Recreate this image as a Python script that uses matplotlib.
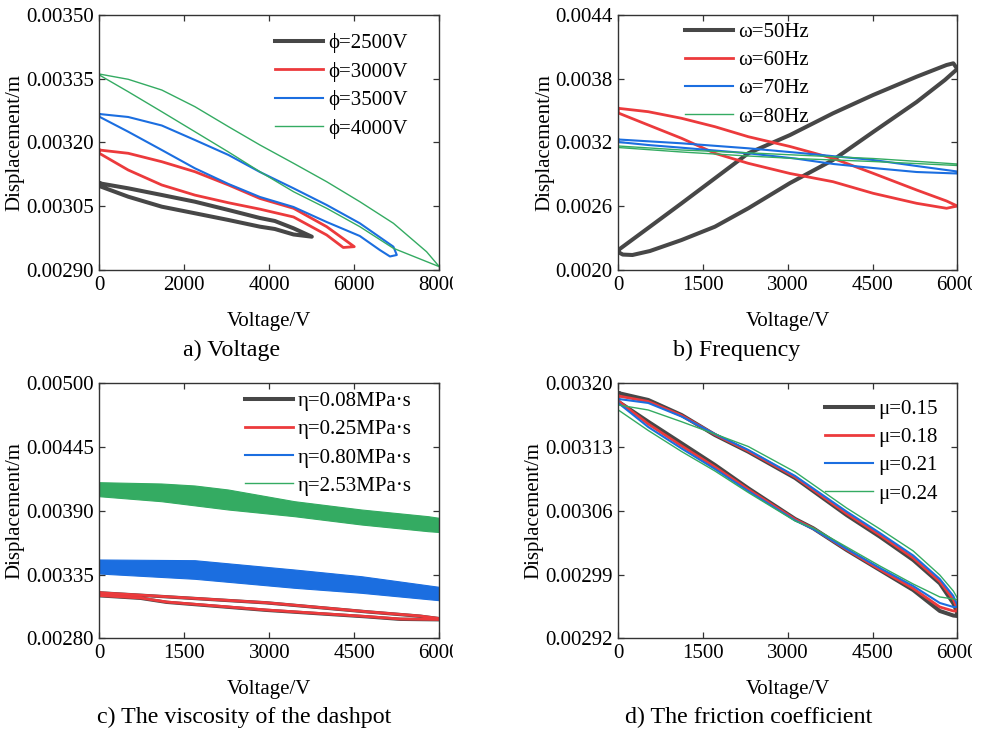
import numpy as np
import matplotlib
matplotlib.use("Agg")
import matplotlib.pyplot as plt
from matplotlib.lines import Line2D
from matplotlib.transforms import Bbox

plt.rcParams['font.family'] = ['Liberation Serif', 'DejaVu Serif']

# ---------------- data (voltage in V, displacement in m), closed hysteresis loops ----------------
# a) Voltage amplitude
volt_a_2500 = [0, 680, 1470, 2250, 3040, 3780, 4130, 4570, 5000, 4570, 4130, 3780, 3040, 2250, 1470, 680, 0]
disp_a_2500 = [0.0031038, 0.0030920, 0.0030763, 0.0030605, 0.0030410, 0.0030222, 0.0030152, 0.0029980, 0.0029783,
               0.0029835, 0.0029964, 0.0030018, 0.0030175, 0.0030333, 0.0030488, 0.0030723, 0.0030974]
volt_a_3000 = [0, 680, 1470, 2250, 3040, 3780, 4570, 5350, 6000, 5740, 5350, 4570, 3780, 3040, 2250, 1470, 680, 0]
disp_a_3000 = [0.0031820, 0.0031743, 0.0031545, 0.0031310, 0.0030998, 0.0030681, 0.0030450, 0.0030018, 0.0029548,
               0.0029529, 0.0029823, 0.0030246, 0.0030430, 0.0030580, 0.0030760, 0.0030998, 0.0031350, 0.0031743]
volt_a_3500 = [0, 680, 1470, 2250, 3040, 3780, 4570, 5350, 6130, 6920, 7000,
               6840, 6600, 6130, 5350, 4570, 3780, 3040, 2250, 1470, 680, 0]
disp_a_3500 = [0.0032666, 0.0032596, 0.0032396, 0.0032055, 0.0031703, 0.0031303, 0.0030920, 0.0030528, 0.0030098,
               0.0029548, 0.0029353,
               0.0029318, 0.0029470, 0.0029799, 0.0030128, 0.0030481, 0.0030716, 0.0031021, 0.0031390, 0.0031820,
               0.0032250, 0.0032603]
volt_a_4000 = [0, 680, 1470, 2250, 3040, 3780, 4570, 5350, 6130, 6920, 7700, 8000,
               6920, 6130, 5350, 4570, 3780, 3040, 2250, 1470, 680, 0]
disp_a_4000 = [0.0033606, 0.0033482, 0.0033230, 0.0032838, 0.0032368, 0.0031938, 0.0031508, 0.0031075, 0.0030605,
               0.0030098, 0.0029430, 0.0029078,
               0.0029510, 0.0030018, 0.0030450, 0.0030840, 0.0031310, 0.0031773, 0.0032250, 0.0032720, 0.0033190,
               0.0033583]

# b) Frequency
volt_b_50 = [0, 560, 1120, 1710, 2300, 3040, 3800, 4510, 5280, 5810, 5930, 6000,
             5780, 5280, 4510, 3800, 3040, 2300, 1710, 1120, 560, 250, 80, 0]
disp_b_50 = [0.0021879, 0.0024070, 0.0026270, 0.0028620, 0.0030970, 0.0032690, 0.0034730, 0.0036451, 0.0038171,
             0.0039271, 0.0039431, 0.0038900,
             0.0037861, 0.0035793, 0.0032973, 0.0030340, 0.0028178, 0.0025800, 0.0024070, 0.0022819, 0.0021785,
             0.0021410, 0.0021450, 0.0021680]
volt_b_60 = [0, 530, 1120, 1710, 2300, 3040, 3800, 4510, 5280, 5810, 6000,
             5810, 5280, 4510, 3800, 3040, 2300, 1710, 1120, 530, 0]
disp_b_60 = [0.0035200, 0.0034881, 0.0034261, 0.0033471, 0.0032531, 0.0031609, 0.0030500, 0.0029090, 0.0027520,
             0.0026486, 0.0026016,
             0.0025800, 0.0026270, 0.0027210, 0.0028300, 0.0029071, 0.0030030, 0.0030970, 0.0032380, 0.0033631,
             0.0034759]
volt_b_70 = [0, 1120, 2300, 3130, 4510, 5280, 6000,
             6000, 5280, 4510, 3810, 3130, 2300, 1120, 530, 0]
disp_b_70 = [0.0032268, 0.0031910, 0.0031440, 0.0031045, 0.0030340, 0.0029776, 0.0029259,
             0.0029071, 0.0029212, 0.0029588, 0.0029964, 0.0030481, 0.0030970, 0.0031497, 0.0031750, 0.0032032]
volt_b_80 = [0, 1120, 2300, 3130, 4510, 6000,
             6000, 4510, 3130, 2300, 1120, 0]
disp_b_80 = [0.0031656, 0.0031280, 0.0031017, 0.0030810, 0.0030481, 0.0029964,
             0.0029823, 0.0030199, 0.0030481, 0.0030716, 0.0031092, 0.0031515]

# c) Viscosity of the dashpot
volt_c_008 = [0, 1190, 2950, 4720, 5660, 6000, 6000, 5310, 4720, 2950, 1190, 730, 0]
disp_c_008 = [0.0031925, 0.0031580, 0.0031060, 0.0030285, 0.0029910, 0.0029695,
              0.0029600, 0.0029640, 0.0029855, 0.0030415, 0.0031105, 0.0031450, 0.0031670]
volt_c_025 = [0, 1190, 2950, 4720, 5660, 6000, 6000, 5310, 4720, 2950, 1190, 730, 0]
disp_c_025 = [0.0031935, 0.0031590, 0.0031072, 0.0030296, 0.0029925, 0.0029709,
              0.0029623, 0.0029666, 0.0029882, 0.0030443, 0.0031133, 0.0031478, 0.0031694]
volt_c_080 = [0, 1690, 3450, 4630, 6000, 6000, 4630, 3450, 1690, 0]
disp_c_080 = [0.0034756, 0.0034696, 0.0033893, 0.0033315, 0.0032400,
              0.0031245, 0.0031883, 0.0032315, 0.0033091, 0.0033548]
volt_c_253 = [0, 1100, 1690, 2280, 3450, 4630, 5810, 6000, 6000, 5810, 4630, 3450, 2280, 1100, 0]
disp_c_253 = [0.0041425, 0.0041313, 0.0041140, 0.0040795, 0.0039786, 0.0039070, 0.0038492, 0.0038354,
              0.0037129, 0.0037198, 0.0037776, 0.0038492, 0.0039070, 0.0039786, 0.0040217]

# d) Friction coefficient
volt_d = [0, 530, 1120, 1710, 2300, 3130, 4040, 4630, 5220, 5690, 5930, 6000,
          6000, 5930, 5690, 5220, 4630, 4040, 3450, 3130, 2300, 1710, 1120, 530, 0]
disp_d_015 = [0.0031893, 0.0031817, 0.0031652, 0.0031432, 0.0031249, 0.0030960, 0.0030554, 0.0030316, 0.0030060,
              0.0029804, 0.0029584, 0.0029478,
              0.0029445, 0.0029450, 0.0029500, 0.0029730, 0.0029950, 0.0030170, 0.0030408, 0.0030510, 0.0030847,
              0.0031103, 0.0031341, 0.0031578, 0.0031798]
disp_d_018 = [0.0031861, 0.0031800, 0.0031646, 0.0031438, 0.0031257, 0.0030971, 0.0030570, 0.0030334, 0.0030082,
              0.0029824, 0.0029626, 0.0029522,
              0.0029500, 0.0029500, 0.0029544, 0.0029747, 0.0029956, 0.0030175, 0.0030406, 0.0030505, 0.0030834,
              0.0031081, 0.0031312, 0.0031553, 0.0031806]
disp_d_021 = [0.0031828, 0.0031784, 0.0031635, 0.0031443, 0.0031268, 0.0030982, 0.0030592, 0.0030356, 0.0030109,
              0.0029851, 0.0029665, 0.0029566,
              0.0029544, 0.0029544, 0.0029588, 0.0029774, 0.0029972, 0.0030181, 0.0030400, 0.0030494, 0.0030817,
              0.0031059, 0.0031284, 0.0031520, 0.0031784]
disp_d_024 = [0.0031762, 0.0031707, 0.0031578, 0.0031443, 0.0031306, 0.0031026, 0.0030631, 0.0030400, 0.0030159,
              0.0029895, 0.0029719, 0.0029643,
              0.0029621, 0.0029632, 0.0029654, 0.0029796, 0.0029994, 0.0030203, 0.0030411, 0.0030488, 0.0030801,
              0.0031037, 0.0031251, 0.0031482, 0.0031707]

labels_a = ['ϕ=2500V', 'ϕ=3000V', 'ϕ=3500V', 'ϕ=4000V']
labels_b = ['ω=50Hz', 'ω=60Hz', 'ω=70Hz', 'ω=80Hz']
labels_c = ['η=0.08MPa·s', 'η=0.25MPa·s', 'η=0.80MPa·s', 'η=2.53MPa·s']
labels_d = ['μ=0.15', 'μ=0.18', 'μ=0.21', 'μ=0.24']

xticks_a = [0, 2000, 4000, 6000, 8000]
xticks_bcd = [0, 1500, 3000, 4500, 6000]
yticks_a = [0.00290, 0.00305, 0.00320, 0.00335, 0.00350]
ylabels_a = ['0.00290', '0.00305', '0.00320', '0.00335', '0.00350']
yticks_b = [0.0020, 0.0026, 0.0032, 0.0038, 0.0044]
ylabels_b = ['0.0020', '0.0026', '0.0032', '0.0038', '0.0044']
yticks_c = [0.00280, 0.00335, 0.00390, 0.00445, 0.00500]
ylabels_c = ['0.00280', '0.00335', '0.00390', '0.00445', '0.00500']
yticks_d = [0.00292, 0.00299, 0.00306, 0.00313, 0.00320]
ylabels_d = ['0.00292', '0.00299', '0.00306', '0.00313', '0.00320']

captions = ['a) Voltage', 'b) Frequency', 'c) The viscosity of the dashpot', 'd) The friction coefficient']

# ---------------- style ----------------
C_K, C_R, C_B, C_G = '#474747', '#ec3a3c', '#1b6ee0', '#34ab62'
LW = [2.9, 2.0, 1.5, 1.0]
COLS = [C_K, C_R, C_B, C_G]
FS = 15
W, H = 981, 731

fig = plt.figure(figsize=(W / 100, H / 100), dpi=100)


def add_ax(l, t, r, b):
    return fig.add_axes([l / W, 1 - b / H, (r - l) / W, (b - t) / H])


ax_a = add_ax(99.3, 14.7, 439.3, 270.0)
ax_b = add_ax(618.3, 14.7, 957.3, 270.0)
ax_c = add_ax(99.3, 383.3, 439.3, 638.3)
ax_d = add_ax(618.3, 383.3, 957.3, 638.3)


def closed(v, d):
    return list(v) + [v[0]], list(d) + [d[0]]


def style(ax, xt, xmax, yt, ylab, ylim, clip_x):
    ax.set_xlim(0, xmax)
    ax.set_ylim(*ylim)
    ax.set_xticks(xt)
    ax.set_xticklabels([str(t) for t in xt])
    ax.set_yticks(yt)
    ax.set_yticklabels(ylab)
    ax.tick_params(direction='in', top=True, right=True, length=4, width=0.9,
                   labelsize=FS, pad=4, color='#333333')
    for s in ax.spines.values():
        s.set_color('#333333')
        s.set_linewidth(1.0)
    ax.set_xlabel('Voltage/V', fontsize=FS, va='baseline')
    ax.xaxis.set_label_coords(0.5, -(326 - 270) / 255.3)
    ax.set_ylabel('Displacement/m', fontsize=FS, labelpad=1)
    lab = ax.xaxis.get_major_ticks()[-1].label1
    lab.set_clip_box(Bbox.from_extents(0, 0, clip_x, H))
    lab.set_clip_on(True)


def legend(ax, labels, fx, fy):
    handles = [Line2D([], [], color=c, lw=lw) for c, lw in zip(COLS, LW)]
    ax.legend(handles, labels, loc='upper left', bbox_to_anchor=(fx, fy), frameon=False,
              fontsize=FS, handlelength=2.3, handletextpad=0.25, labelspacing=0.41,
              borderpad=0, borderaxespad=0)


# a
for (v, d), c, lw in zip([(volt_a_2500, disp_a_2500), (volt_a_3000, disp_a_3000),
                          (volt_a_3500, disp_a_3500), (volt_a_4000, disp_a_4000)], COLS, LW):
    xv, yv = closed(v, d)
    ax_a.plot(xv, yv, color=c, lw=lw, solid_joinstyle='round')
style(ax_a, xticks_a, 8000, yticks_a, ylabels_a, (0.00290, 0.00350), 453)
legend(ax_a, labels_a, 0.517, 0.928)

# b
for (v, d), c, lw in zip([(volt_b_50, disp_b_50), (volt_b_60, disp_b_60),
                          (volt_b_70, disp_b_70), (volt_b_80, disp_b_80)], COLS, LW):
    xv, yv = closed(v, d)
    ax_b.plot(xv, yv, color=c, lw=lw, solid_joinstyle='round')
style(ax_b, xticks_bcd, 6000, yticks_b, ylabels_b, (0.0020, 0.0044), 972)
legend(ax_b, labels_b, 0.197, 0.969)

# c
for (v, d), c in zip([(volt_c_253, disp_c_253), (volt_c_080, disp_c_080)], [C_G, C_B]):
    ax_c.fill(v, d, color=c, lw=0.8)
for (v, d), c, lw in zip([(volt_c_008, disp_c_008), (volt_c_025, disp_c_025)], [C_K, C_R], [2.4, 2.0]):
    xv, yv = closed(v, d)
    ax_c.plot(xv, yv, color=c, lw=lw, solid_joinstyle='round')
style(ax_c, xticks_bcd, 6000, yticks_c, ylabels_c, (0.00280, 0.00500), 453)
legend(ax_c, labels_c, 0.4285, 0.967)

# d
for d, c, lw in zip([disp_d_015, disp_d_018, disp_d_021, disp_d_024], COLS, LW):
    xv, yv = closed(volt_d, d)
    ax_d.plot(xv, yv, color=c, lw=lw, solid_joinstyle='round')
style(ax_d, xticks_bcd, 6000, yticks_d, ylabels_d, (0.00292, 0.00320), 972)
legend(ax_d, labels_d, 0.610, 0.936)

# captions
cap_pos = [(231.7, 356), (737, 356), (244.5, 723), (749, 723)]
for txt, (x, y) in zip(captions, cap_pos):
    fig.text(x / W, 1 - y / H, txt, ha='center', va='baseline', fontsize=17.3)

fig.savefig('out.png', dpi=100)
